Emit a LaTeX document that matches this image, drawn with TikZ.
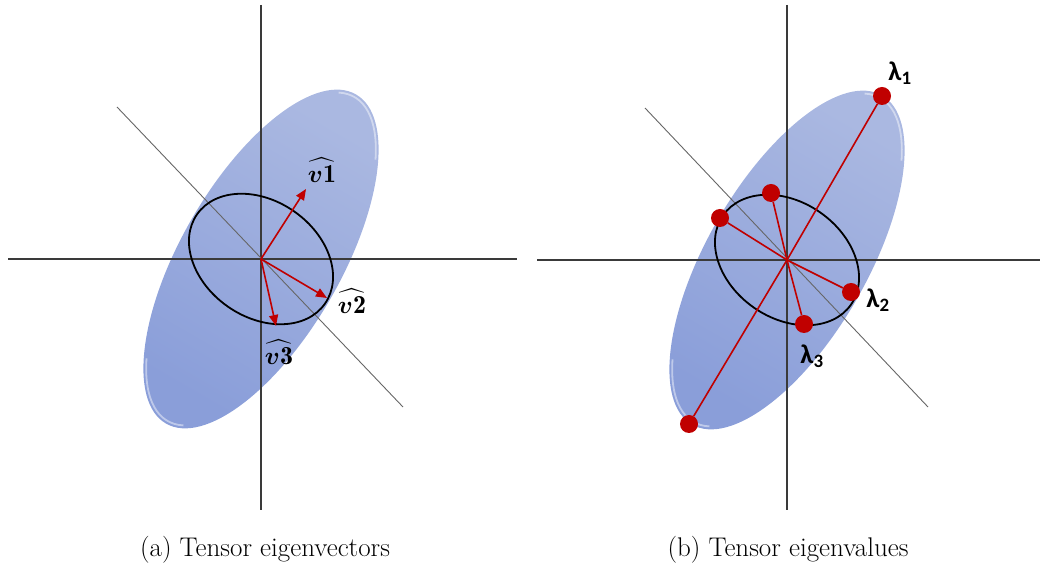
\documentclass[tikz,border=0pt]{standalone}
\usepackage{amsmath}
\usepackage{fontspec}
\newfontfamily\lamfont{Carlito}
\usetikzlibrary{arrows.meta,positioning,calc}
\definecolor{ellhi}{HTML}{AAB8E1}
\definecolor{elllo}{HTML}{8A9ED9}
\definecolor{eigred}{HTML}{C00000}
\definecolor{axgray}{HTML}{3A3A3A}

\begin{document}
\begin{tikzpicture}[x=1pt, y=1pt,
    axline/.style={axgray, line width=1.1pt},
    diagline/.style={black!60, line width=0.9pt},
    tensorfill/.style={top color=ellhi, bottom color=elllo, shading angle=-30},
    rim/.style={white, opacity=.45, line width=1.8pt},
    ring/.style={black, line width=1.8pt},
    eigvec/.style={eigred, line width=1.6pt, -{Triangle[length=11pt,width=9pt]}},
    eigray/.style={eigred, line width=1.6pt},
    eigdot/.style={circle, fill=eigred, inner sep=0pt, minimum size=18pt},
    vlabel/.style={font=\fontsize{26}{28}\selectfont, inner sep=1pt},
    llabel/.style={font=\lamfont\bfseries\fontsize{27}{30}\selectfont},
    subcap/.style={font=\fontsize{27}{30}\selectfont, anchor=base}]
  \useasboundingbox (0,0) rectangle (1044,570);

  % (a) eigenvectors
  \begin{scope}[shift={(261,311)}]
    \coordinate (ca) at (0,0);
    \shade[tensorfill, rotate=60] (ca) ellipse [x radius=190, y radius=80];
    \begin{scope}[rotate=60]
      \draw[rim] (-40:187 and 77) arc [start angle=-40, end angle=12, x radius=187, y radius=77];
      \draw[rim] (140:187 and 77) arc [start angle=140, end angle=192, x radius=187, y radius=77];
    \end{scope}
    \draw[axline] (0,254) -- (0,-251);
    \draw[axline] (-253,0) -- (256,0);
    \draw[diagline] (-144,152) -- (142,-148);
    \draw[ring, rotate=-35] (ca) ellipse [x radius=78, y radius=58];
    \coordinate (v1) at (45,70);
    \coordinate (v2) at (66,-39);
    \coordinate (v3) at (15,-67);
    \draw[eigvec] (ca) -- (v1);
    \draw[eigvec] (ca) -- (v2);
    \draw[eigvec] (ca) -- (v3);
    \node[vlabel] (v1lab) at (61,89) {$\widehat{\boldsymbol{v}\mathbf{1}}$};
    \node[vlabel] (v2lab) at (91,-42) {$\widehat{\boldsymbol{v}\mathbf{2}}$};
    \node[vlabel] (v3lab) at (18,-93) {$\widehat{\boldsymbol{v}\mathbf{3}}$};
  \end{scope}

  % (b) eigenvalues
  \begin{scope}[shift={(787,310)}]
    \coordinate (cb) at (0,0);
    \shade[tensorfill, rotate=60] (cb) ellipse [x radius=190, y radius=80];
    \begin{scope}[rotate=60]
      \draw[rim] (-40:187 and 77) arc [start angle=-40, end angle=12, x radius=187, y radius=77];
      \draw[rim] (140:187 and 77) arc [start angle=140, end angle=192, x radius=187, y radius=77];
    \end{scope}
    \draw[axline] (0,255) -- (0,-250);
    \draw[axline] (-250,0) -- (253,0);
    \draw[diagline] (-142,152) -- (141,-147);
    \draw[ring, rotate=-35] (cb) ellipse [x radius=78, y radius=58];
    \node[eigdot] (l1)  at (95,164) {};
    \node[eigdot] (l1b) at (-98,-164) {};
    \node[eigdot] (l2)  at (64,-32) {};
    \node[eigdot] (l2b) at (-67,42) {};
    \node[eigdot] (l3)  at (17,-64) {};
    \node[eigdot] (l3b) at (-16,67) {};
    \draw[eigray] (cb) -- (l1);
    \draw[eigray] (cb) -- (l1b);
    \draw[eigray] (cb) -- (l2);
    \draw[eigray] (cb) -- (l2b);
    \draw[eigray] (cb) -- (l3);
    \draw[eigray] (cb) -- (l3b);
    \node[llabel] (l1lab) at (113,187) {λ\textsubscript{1}};
    \node[llabel] (l2lab) at (91,-40) {λ\textsubscript{2}};
    \node[llabel] (l3lab) at (25,-96) {λ\textsubscript{3}};
  \end{scope}

  \node[subcap] (capa) at (265,13) {(a) Tensor eigenvectors};
  \node[subcap] (capb) at (788,13) {(b) Tensor eigenvalues};
\end{tikzpicture}
\end{document}
